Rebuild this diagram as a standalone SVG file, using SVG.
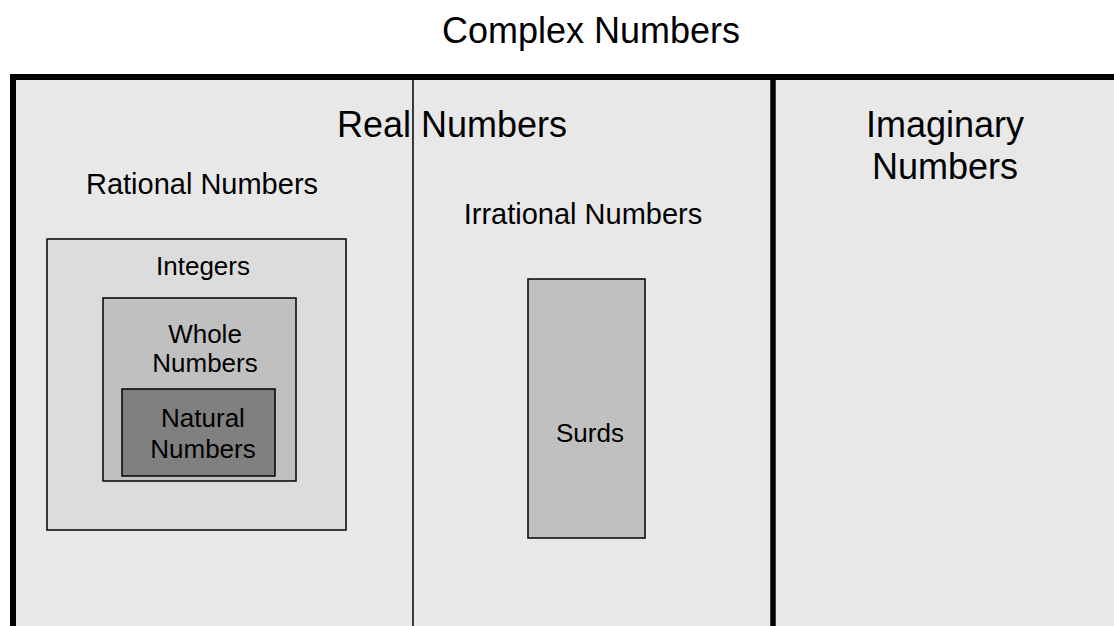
<svg xmlns="http://www.w3.org/2000/svg" width="1114" height="626" viewBox="0 0 1114 626">
<style>
text{font-family:"Liberation Sans",Arial,sans-serif;fill:#000;text-anchor:middle}
.big{font-size:36px}
.mid{font-size:29px}
.sm{font-size:26px}
.box{stroke:#000;stroke-width:1.5}
</style>
<rect width="1114" height="626" fill="#fff"/>
<g id="complex">
<rect x="13" y="77" width="1120" height="570" fill="#e8e8e8" stroke="#000" stroke-width="6"/>
<text class="big" x="591" y="43">Complex Numbers</text>
</g>
<g id="real">
<text class="big" x="452" y="137">Real Numbers</text>
</g>
<g id="rational">
<text class="mid" x="202" y="194">Rational Numbers</text>
</g>
<g id="irrational">
<text class="mid" x="583" y="224">Irrational Numbers</text>
</g>
<g id="imaginary">
<text class="big" x="945" y="137">Imaginary</text>
<text class="big" x="945" y="179">Numbers</text>
</g>
<g id="dividers">
<line x1="413" y1="79" x2="413" y2="626" stroke="#000" stroke-width="1.5"/>
<line x1="773" y1="79" x2="773" y2="626" stroke="#000" stroke-width="5.5"/>
</g>
<g id="integers">
<rect class="box" x="47" y="239" width="299" height="291" fill="#dcdcdc"/>
<text class="sm" x="203" y="275">Integers</text>
</g>
<g id="whole">
<rect class="box" x="103" y="298" width="193" height="183" fill="#c0c0c0"/>
<text class="sm" x="205" y="343">Whole</text>
<text class="sm" x="205" y="372">Numbers</text>
</g>
<g id="natural">
<rect class="box" x="122" y="389" width="153" height="87" fill="#808080"/>
<text class="sm" x="203" y="427">Natural</text>
<text class="sm" x="203" y="458">Numbers</text>
</g>
<g id="surds">
<rect class="box" x="528" y="279" width="117" height="259" fill="#c0c0c0"/>
<text class="sm" x="590" y="442">Surds</text>
</g>
</svg>
